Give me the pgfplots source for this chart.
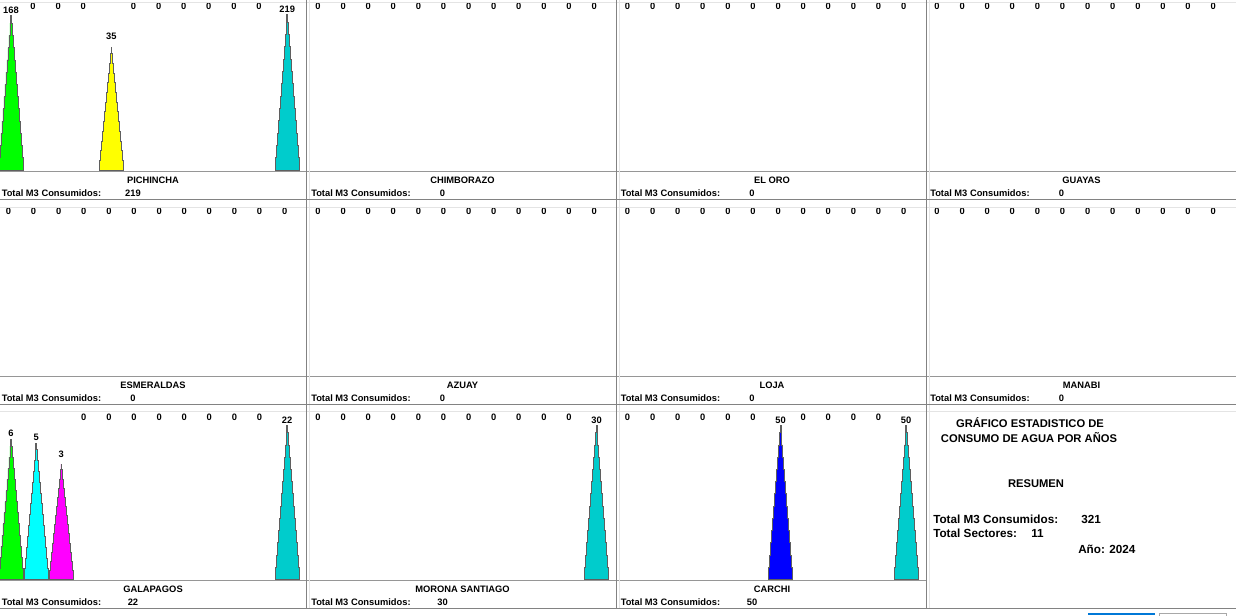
\documentclass[border=0pt]{standalone}
\usepackage{pgfplots}
\pgfplotsset{compat=1.18}
\usepackage{pgfplotstable}
\usepackage{fontspec}
\setmainfont{Liberation Sans}
\definecolor{cgreen}{RGB}{0,255,0}
\definecolor{cyellow}{RGB}{255,255,0}
\definecolor{cteal}{RGB}{0,204,204}
\definecolor{ccyan}{RGB}{0,255,255}
\definecolor{cmag}{RGB}{255,0,255}
\definecolor{cblue}{RGB}{0,0,255}
\definecolor{edge}{RGB}{95,95,95}
\definecolor{divd}{RGB}{130,130,130}
\definecolor{divl}{RGB}{228,228,228}
\definecolor{basel}{RGB}{150,150,150}
\definecolor{btnblue}{RGB}{0,120,215}
\newcommand{\lbl}{\fontsize{7}{8}\selectfont\bfseries}
\newcommand{\sumf}{\fontsize{8.4}{10}\selectfont\bfseries}
\newcommand{\sumg}{\fontsize{8.8}{10}\selectfont\bfseries}

% stepped cone outline (unit height, centred at 0)
\pgfplotstableread{
dx dy
-0.48 0
-0.48 0.0792
-0.44 0.0792
-0.44 0.1583
-0.40 0.1583
-0.40 0.2375
-0.36 0.2375
-0.36 0.3167
-0.32 0.3167
-0.32 0.3958
-0.28 0.3958
-0.28 0.475
-0.24 0.475
-0.24 0.5542
-0.20 0.5542
-0.20 0.6333
-0.16 0.6333
-0.16 0.7125
-0.12 0.7125
-0.12 0.7917
-0.08 0.7917
-0.08 0.8708
-0.04 0.8708
-0.04 0.95
-0.012 0.95
-0.012 1
0.012 1
0.012 0.95
0.04 0.95
0.04 0.8708
0.08 0.8708
0.08 0.7917
0.12 0.7917
0.12 0.7125
0.16 0.7125
0.16 0.6333
0.20 0.6333
0.20 0.5542
0.24 0.5542
0.24 0.475
0.28 0.475
0.28 0.3958
0.32 0.3958
0.32 0.3167
0.36 0.3167
0.36 0.2375
0.40 0.2375
0.40 0.1583
0.44 0.1583
0.44 0.0792
0.48 0.0792
0.48 0
}\tCone

% label tables: lx = label x, ly = label height (px above base), v = value
\pgfplotstableread{
lx ly v
0.9 164 0
1.9 164 0
2.9 164 0
3.9 164 0
4.9 164 0
5.9 164 0
6.9 164 0
7.9 164 0
8.9 164 0
9.9 164 0
10.9 164 0
11.9 164 0
}\tZero
\pgfplotstableread{
lx ly v
1 159.5 168
1.88 164 0
2.88 164 0
3.88 164 0
5 133.5 35
5.88 164 0
6.88 164 0
7.88 164 0
8.88 164 0
9.88 164 0
10.88 164 0
12 161 219
}\tPich
\pgfplotstableread{
lx ly v
1 146.5 6
2 142.5 5
3 125.5 3
3.9 162.5 0
4.9 162.5 0
5.9 162.5 0
6.9 162.5 0
7.9 162.5 0
8.9 162.5 0
9.9 162.5 0
10.9 162.5 0
12 159.5 22
}\tGala
\pgfplotstableread{
lx ly v
0.9 162.5 0
1.9 162.5 0
2.9 162.5 0
3.9 162.5 0
4.9 162.5 0
5.9 162.5 0
6.9 162.5 0
7.9 162.5 0
8.9 162.5 0
9.9 162.5 0
10.9 162.5 0
12 159.5 30
}\tMoro
\pgfplotstableread{
lx ly v
0.9 162.5 0
1.9 162.5 0
2.9 162.5 0
3.9 162.5 0
4.9 162.5 0
5.9 162.5 0
7 159.5 50
7.9 162.5 0
8.9 162.5 0
9.9 162.5 0
10.9 162.5 0
12 159.5 50
}\tCarc

\pgfplotsset{
  panel/.style={scale only axis, width=230.25pt, height=127.5pt,
    xmin=0.562, xmax=12.79, ymin=0, ymax=170, hide axis, clip=false,
    anchor=south west},
  cone/.style={draw=edge, line width=0.6pt, line join=miter},
  labels/.style={draw=none, mark=none, nodes near coords,
    point meta=explicit symbolic,
    every node near coord/.append style={anchor=center, font=\lbl, inner sep=0pt}},
}
% \cone{position}{height}{colour}
\newcommand{\cone}[3]{%
  \addplot[cone, fill=#3] table[x expr=\thisrow{dx}+#1, y expr=\thisrow{dy}*#2]{\tCone} -- cycle;}
\newcommand{\zeropanel}[2]{%
  \begin{axis}[panel, at={({#1*0.75pt},{-#2*0.75pt})}]
    \addplot[labels] table[x=lx, y=ly, meta=v]{\tZero};
  \end{axis}}

\begin{document}
\begin{tikzpicture}
\useasboundingbox (0,0) rectangle (927pt,-461.25pt);
\fill[white] (0,0) rectangle (927pt,-461.25pt);

% Row 1
\begin{axis}[panel, at={(0pt,{-170*0.75pt})}]
  \cone{1}{154.5}{cgreen}
  \cone{5}{122.5}{cyellow}
  \cone{12}{155.5}{cteal}
  \addplot[labels] table[x=lx, y=ly, meta=v]{\tPich};
\end{axis}
\zeropanel{309.5}{170}
\zeropanel{619}{170}
\zeropanel{928.5}{170}
% Row 2
\zeropanel{0}{375.5}
\zeropanel{309.5}{375.5}
\zeropanel{619}{375.5}
\zeropanel{928.5}{375.5}
% Row 3
\begin{axis}[panel, at={(0pt,{-579.5*0.75pt})}]
  \cone{1}{140.5}{cgreen}
  \cone{2}{136.5}{ccyan}
  \cone{3}{115.5}{cmag}
  \cone{12}{154.5}{cteal}
  \addplot[labels] table[x=lx, y=ly, meta=v]{\tGala};
\end{axis}
\begin{axis}[panel, at={({309.5*0.75pt},{-579.5*0.75pt})}]
  \cone{12}{154.5}{cteal}
  \addplot[labels] table[x=lx, y=ly, meta=v]{\tMoro};
\end{axis}
\begin{axis}[panel, at={({619*0.75pt},{-579.5*0.75pt})}]
  \cone{7}{154.5}{cblue}
  \cone{12}{154.5}{cteal}
  \addplot[labels] table[x=lx, y=ly, meta=v]{\tCarc};
\end{axis}

\begin{scope}[x=0.75pt, y=-0.75pt]
  % light inner frame lines
  \foreach \yy in {2,207,411} {
    \draw[divl, line width=0.75pt] (0,\yy) -- (1236,\yy);
  }
  % base lines
  \foreach \yy in {171,376} {
    \draw[basel, line width=0.75pt] (0,\yy) -- (1236,\yy);
  }
  \draw[basel, line width=0.75pt] (0,580) -- (927,580);
  % vertical dividers
  \foreach \xx in {306.5,616.5,926.5} {
    \draw[divd, line width=1.1pt] (\xx,0) -- (\xx,609);
  }
  \foreach \xx in {309,619,929} {
    \draw[divl, line width=0.75pt] (\xx,0) -- (\xx,608);
  }
  % row bottoms
  \foreach \yy in {199.5,404.5,608.5} {
    \draw[divd, line width=1.1pt] (0,\yy) -- (1236,\yy);
  }
  % panel texts
  \foreach \ox/\by/\nm/\tv in {
      0/171/PICHINCHA/219, 309.5/171/CHIMBORAZO/0, 619/171/EL ORO/0, 928.5/171/GUAYAS/0,
      0/376/ESMERALDAS/0, 309.5/376/AZUAY/0, 619/376/LOJA/0, 928.5/376/MANABI/0,
      0/580/GALAPAGOS/22, 309.5/580/MORONA SANTIAGO/30, 619/580/CARCHI/50} {
    \node[font=\lbl, inner sep=0pt] at (\ox+153,\by+9.5) {\nm};
    \node[font=\lbl, inner sep=0pt, anchor=west] at (\ox+1.5,\by+22.5) {Total M3 Consumidos:};
    \node[font=\lbl, inner sep=0pt] at (\ox+133,\by+22.5) {\tv};
  }
  % summary
  \node[font=\sumf, inner sep=0pt] at (1030,423) {GRÁFICO ESTADISTICO DE};
  \node[font=\sumf, inner sep=0pt] at (1029,438) {CONSUMO DE AGUA POR AÑOS};
  \node[font=\sumf, inner sep=0pt] at (1036,484) {RESUMEN};
  \node[font=\sumg, inner sep=0pt, anchor=west] at (933,519) {Total M3 Consumidos:};
  \node[font=\sumg, inner sep=0pt, anchor=west] at (1081,519) {321};
  \node[font=\sumg, inner sep=0pt, anchor=west] at (933,533.5) {Total Sectores:};
  \node[font=\sumg, inner sep=0pt, anchor=west] at (1031,533.5) {11};
  \node[font=\sumg, inner sep=0pt, anchor=west] at (1078,549) {Año: 2024};
  % window buttons at bottom edge
  \fill[btnblue] (1088,612.5) rectangle (1155,615);
  \draw[divd!70, line width=0.75pt] (1159.5,615.5) -- (1159.5,613.5) -- (1226.5,613.5) -- (1226.5,615.5);
\end{scope}
\end{tikzpicture}
\end{document}
